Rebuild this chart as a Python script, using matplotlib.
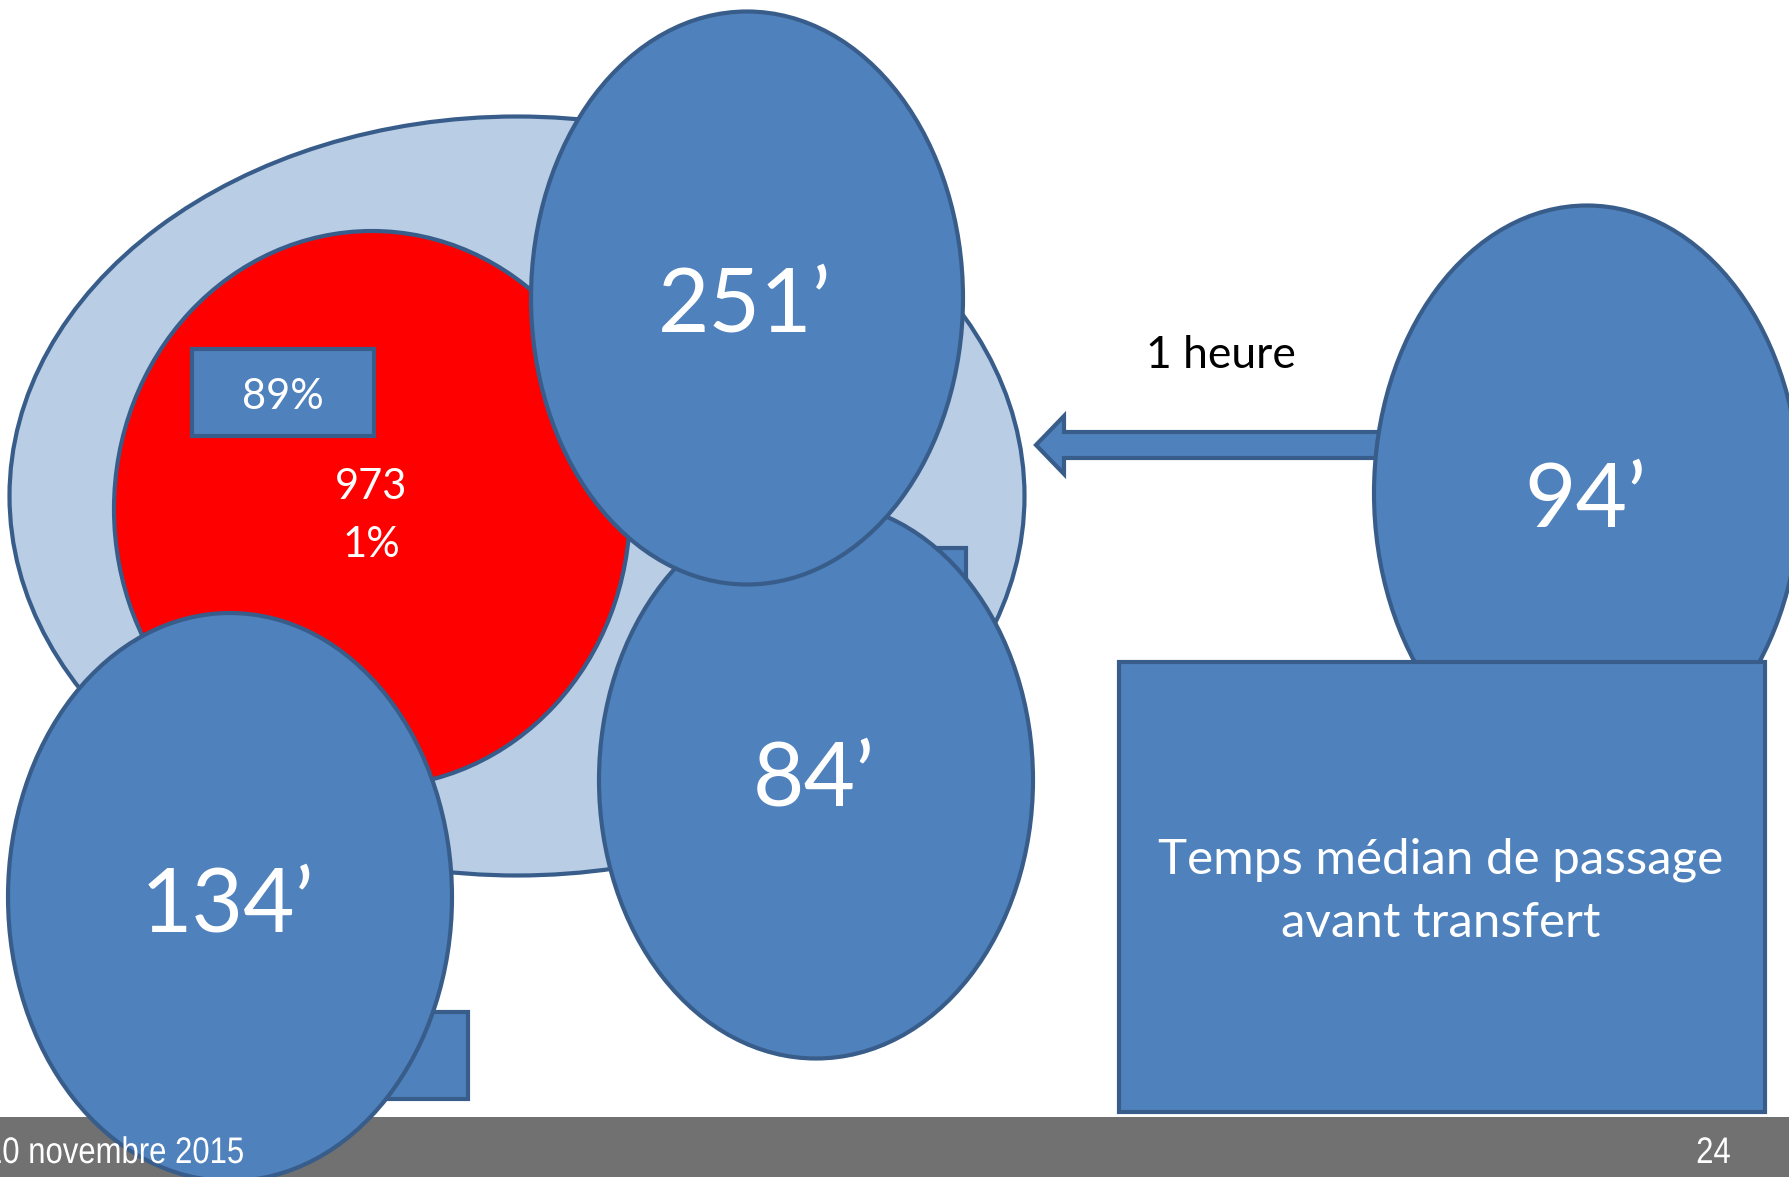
import matplotlib
matplotlib.use("Agg")
from matplotlib import pyplot as plt
from matplotlib.patches import Ellipse, Rectangle, Polygon, PathPatch
from matplotlib.textpath import TextPath
from matplotlib.font_manager import FontProperties
from matplotlib.transforms import Affine2D

# Temps médian de passage (minutes) par structure
minutes = [251, 84, 134, 94]
part_haute = 89      # %
effectif = 973
part_basse = 1       # %
delai = "1 heure"
legende = "Temps médian de passage\navant transfert"
date_pied = "10 novembre 2015"
num_page = "24"

BLEU = "#4F81BD"
BLEU_BORD = "#385D8A"
BLEU_CLAIR = "#B9CDE5"
ROUGE = "#FF0000"
GRIS = "#717171"
LW = 3.0

W, H = 1789, 1177
fig = plt.figure(figsize=(W / 100, H / 100), dpi=100)
ax = fig.add_axes([0, 0, 1, 1])
ax.set_xlim(0, W)
ax.set_ylim(H, 0)
ax.axis("off")

police = ["Lato", "DejaVu Sans"]


def texte_etroit(s, x, y_base, taille_px, sx=0.84, ha="left"):
    # texte du pied de page, style Arial Narrow : on compresse la police en largeur
    tp = TextPath((0, 0), s, size=taille_px, prop=FontProperties(family="Liberation Sans"))
    larg = tp.get_extents().x1 * sx
    if ha == "center":
        x = x - larg / 2
    tr = Affine2D().scale(sx, -1).translate(x, y_base)
    ax.add_patch(PathPatch(tr.transform_path(tp), facecolor="white", edgecolor="none", zorder=10))


# bandeau du bas
ax.add_patch(Rectangle((0, 1117), W, 60, facecolor=GRIS, edgecolor="none", zorder=0))

# grande ellipse claire et disque rouge
ax.add_patch(Ellipse((517, 496), 1015, 759, facecolor=BLEU_CLAIR, edgecolor=BLEU_BORD, lw=LW, zorder=1))
ax.add_patch(Ellipse((372, 509), 516, 556, facecolor=ROUGE, edgecolor=BLEU_BORD, lw=LW, zorder=2))

# petit cadre 89 %
ax.add_patch(Rectangle((192, 349), 182, 87, facecolor=BLEU, edgecolor=BLEU_BORD, lw=LW, zorder=3))
ax.text(283, 397, f"{part_haute}%", color="white", fontsize=30, ha="center", va="center",
        family=police, zorder=4)
ax.text(371, 487, str(effectif), color="white", fontsize=30, ha="center", va="center",
        family=police, zorder=4)
ax.text(371, 545, f"{part_basse}%", color="white", fontsize=30, ha="center", va="center",
        family=police, zorder=4)

# cadres partiellement masqués
ax.add_patch(Rectangle((820, 548), 146, 120, facecolor=BLEU, edgecolor=BLEU_BORD, lw=LW, zorder=3))
ax.add_patch(Rectangle((300, 1012), 168, 87, facecolor=BLEU, edgecolor=BLEU_BORD, lw=LW, zorder=3))

# ellipses des temps médians
centres = [(747, 298), (816, 780), (230, 897), (1587, 493)]
tailles = [(432, 573), (434, 557), (444, 568), (426, 575)]
decal_txt = [8, 0, 10, 9]
ordre = [6, 5, 7, 6]
for m, c, t, d, z in zip(minutes, centres, tailles, decal_txt, ordre):
    ax.add_patch(Ellipse(c, t[0], t[1], facecolor=BLEU, edgecolor=BLEU_BORD, lw=LW, zorder=z))
    ax.text(c[0] - 2, c[1] + d, f"{m}\u2019", color="white", fontsize=64, ha="center", va="center",
            family=police, zorder=z + 0.5)

# flèche 1 heure
fleche = Polygon([(1036, 445), (1064, 416), (1064, 432), (1420, 432),
                  (1420, 458), (1064, 458), (1064, 474)], closed=True,
                 facecolor=BLEU, edgecolor=BLEU_BORD, lw=LW, zorder=4, joinstyle="miter")
ax.add_patch(fleche)
ax.text(1221, 355, delai, color="black", fontsize=32, ha="center", va="center",
        family=police, zorder=4)

# cadre légende
ax.add_patch(Rectangle((1119, 662), 646, 450, facecolor=BLEU, edgecolor=BLEU_BORD, lw=LW, zorder=8))
ax.text(1441, 891, legende, color="white", fontsize=35.5, ha="center", va="center",
        family=police, linespacing=1.52, zorder=9)

# pied de page
texte_etroit(date_pied, -15, 1163, 37)
texte_etroit(num_page, 1713, 1163, 37, ha="center")

plt.savefig("out.png", dpi=100)
